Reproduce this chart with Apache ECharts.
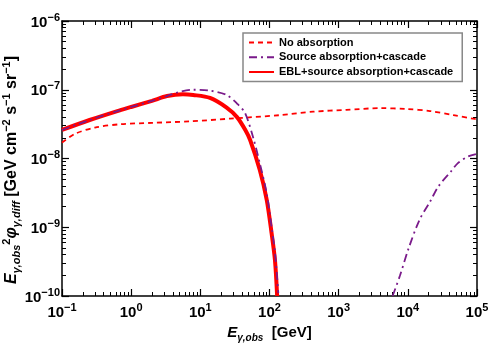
<!DOCTYPE html>
<html>
<head>
<meta charset="utf-8">
<script src="https://cdn.jsdelivr.net/npm/echarts@6/dist/echarts.min.js"></script>
<style>
html, body { margin: 0; padding: 0; background: #fff; }
#chart { width: 489px; height: 344px; }
</style>
</head>
<body>
<div id="chart"></div>
<script>
// energies in GeV, fluxes in GeV cm^-2 s^-1 sr^-1
var noAbsE = [0.1, 0.155, 0.30, 0.72, 2.0, 7.1, 27, 141, 427, 1290, 3980, 9550, 20900, 45700, 87100, 100000];
var noAbsF = [1.7e-8, 2.29e-8, 2.82e-8, 3.16e-8, 3.3e-8, 3.47e-8, 3.8e-8, 4.27e-8, 4.8e-8, 5.1e-8, 5.4e-8, 5.25e-8, 4.9e-8, 4.27e-8, 3.8e-8, 3.7e-8];

var srcE = [0.1, 0.251, 0.631, 1, 2, 3.3, 4.57, 7.8, 13.8, 24, 33.9, 44.2, 58.2, 72.4, 91.2, 107, 120, 134, 136,
            6026, 7656, 10233, 14791, 20893, 27542, 42658, 52481, 74131, 100000];
var srcF = [2.6e-8, 3.63e-8, 4.9e-8, 5.62e-8, 6.9e-8, 8.1e-8, 9.1e-8, 1.0e-7, 9.7e-8, 8.4e-8, 6.3e-8, 4.6e-8, 2.0e-8, 8.5e-9, 3.1e-9, 1.02e-9, 4.3e-10, 1.1e-10, null,
            1.0e-10, 1.95e-10, 4.9e-10, 1.29e-9, 2.34e-9, 3.9e-9, 6.6e-9, 8.5e-9, 1.07e-8, 1.17e-8];

var eblE = [0.1, 0.251, 0.631, 1, 2, 3.3, 5.6, 7.9, 13.8, 24, 33.9, 44.7, 52.5, 72.4, 91.2, 107, 120, 129];
var eblF = [2.6e-8, 3.63e-8, 4.9e-8, 5.62e-8, 6.9e-8, 8.1e-8, 8.6e-8, 8.4e-8, 7.6e-8, 5.5e-8, 4.0e-8, 2.6e-8, 1.86e-8, 6.8e-9, 2.5e-9, 8.3e-10, 3.3e-10, 1.0e-10];

var legendNames = ['No absorption', 'Source absorption+cascade', 'EBL+source absorption+cascade'];

function pairs(xs, ys) {
    return xs.map(function (x, i) {
        return [x, ys[i] == null ? '-' : ys[i]];
    });
}

var FONT = 'Liberation Sans, Arial, Helvetica, sans-serif';

function powLabel(v) {
    var p = Math.round(Math.log10(v));
    return '{b|10}{e|' + (p < 0 ? '\u2212' + (-p) : p) + '}';
}

// one log axis (bottom/top/left/right), ticks pointing into the plot
function logAxis(min, max, position, labels) {
    return {
        type: 'log',
        min: min,
        max: max,
        position: position,
        axisLine: { show: true, lineStyle: { color: '#000', width: 1.5 } },
        axisTick: { show: true, inside: true, length: 7, lineStyle: { color: '#000', width: 1.2 } },
        minorTick: { show: true, splitNumber: 9, length: 4, lineStyle: { color: '#000', width: 1 } },
        splitLine: { show: false },
        axisLabel: {
            show: labels,
            formatter: powLabel,
            margin: position === 'left' ? 2 : 6,
            rich: {
                b: { fontFamily: FONT, fontWeight: 'bold', fontSize: 15, color: '#000', lineHeight: 18, verticalAlign: 'bottom' },
                e: { fontFamily: FONT, fontWeight: 'bold', fontSize: 11, color: '#000', lineHeight: 18, verticalAlign: 'top' }
            }
        }
    };
}

var xBottom = logAxis(0.1, 1e5, 'bottom', true);
xBottom.name = '{i|E}{s|\u03b3,obs}{n|  [GeV]}';
xBottom.nameLocation = 'middle';
xBottom.nameGap = 28;
xBottom.nameTextStyle = {
    rich: {
        i: { fontFamily: FONT, fontStyle: 'italic', fontWeight: 'bold', fontSize: 15, color: '#000', lineHeight: 18, verticalAlign: 'top' },
        s: { fontFamily: FONT, fontStyle: 'italic', fontWeight: 'bold', fontSize: 10, color: '#000', lineHeight: 18, verticalAlign: 'bottom' },
        n: { fontFamily: FONT, fontWeight: 'bold', fontSize: 15, color: '#000', lineHeight: 18, verticalAlign: 'top' }
    }
};

var echart = echarts.init(document.getElementById('chart'));

var option = {
    animation: false,
    grid: { left: 62, right: 12, top: 21, bottom: 48, outerBoundsMode: 'none' },
    legend: {
        data: legendNames,
        orient: 'vertical',
        left: 243,
        top: 33,
        padding: [4, 9, 4, 5],
        itemGap: 3.5,
        itemWidth: 25,
        itemHeight: 14,
        itemTextGap: 5,
        backgroundColor: '#fff',
        borderColor: '#888',
        borderWidth: 1.5,
        borderRadius: 0,
        selectedMode: false,
        itemStyle: { opacity: 0 },
        textStyle: { fontFamily: FONT, fontWeight: 'bold', fontSize: 11, color: '#000' }
    },
    graphic: [{
        type: 'text',
        x: 12,
        y: 170,
        rotation: Math.PI / 2,
        style: {
            text: '{i|E}{s|\u03b3,obs}{p|2}{i|\u03c6}{s|\u03b3,diff}{n| [GeV cm}{p|\u22122}{n| s}{p|\u22121}{n| sr}{p|\u22121}{n|]}',
            align: 'center',
            verticalAlign: 'middle',
            rich: {
                i: { fontFamily: FONT, fontStyle: 'italic', fontWeight: 'bold', fontSize: 16, fill: '#000', lineHeight: 21, verticalAlign: 'middle' },
                s: { fontFamily: FONT, fontStyle: 'italic', fontWeight: 'bold', fontSize: 11, fill: '#000', lineHeight: 21, verticalAlign: 'bottom' },
                p: { fontFamily: FONT, fontWeight: 'bold', fontSize: 11, fill: '#000', lineHeight: 21, verticalAlign: 'top' },
                n: { fontFamily: FONT, fontWeight: 'bold', fontSize: 16, fill: '#000', lineHeight: 21, verticalAlign: 'middle' }
            }
        }
    }],
    xAxis: [xBottom, logAxis(0.1, 1e5, 'top', false)],
    yAxis: [logAxis(1e-10, 1e-6, 'left', true), logAxis(1e-10, 1e-6, 'right', false)],
    series: [
        {
            name: 'No absorption',
            type: 'line',
            data: pairs(noAbsE, noAbsF),
            symbol: 'none',
            smooth: 0.3,
            color: '#ff0000',
            lineStyle: { color: '#ff0000', width: 1.8, type: [5, 4] }
        },
        {
            name: 'EBL+source absorption+cascade',
            type: 'line',
            data: pairs(eblE, eblF),
            symbol: 'none',
            smooth: 0.3,
            color: '#ff0000',
            lineStyle: { color: '#ff0000', width: 4, type: 'solid' }
        },
        {
            name: 'Source absorption+cascade',
            type: 'line',
            data: pairs(srcE, srcF),
            symbol: 'none',
            smooth: 0.3,
            color: '#7a1a8a',
            lineStyle: { color: '#7a1a8a', width: 1.8, type: [8, 4, 2, 4] }
        }
    ]
};
echart.setOption(option);
</script>
</body>
</html>
